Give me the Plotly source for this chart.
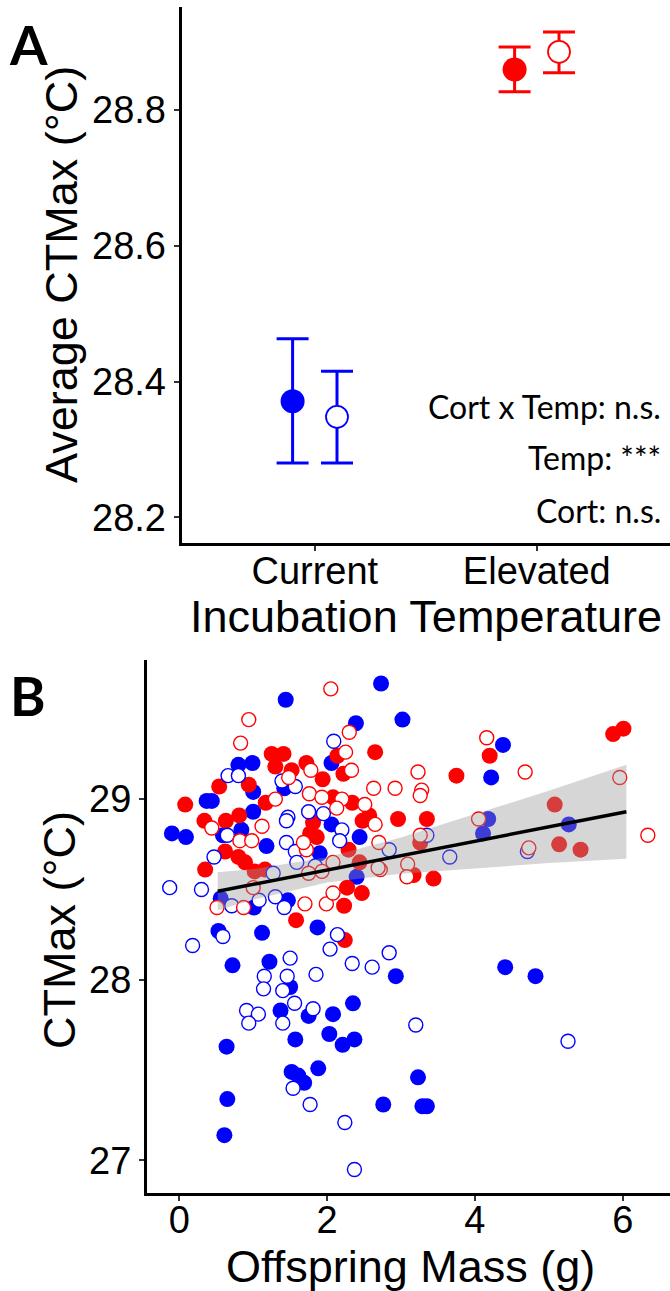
import plotly.graph_objects as go

# ---------------- Panel A: mean CTMax by incubation temperature ----------------
temp_levels = ["Current", "Elevated"]
temp_colors = ["#0000FF", "#FF0000"]

# filled symbols (cort group 1) and open symbols (cort group 2)
mean_filled = [28.371, 28.860]
lo_filled = [28.280, 28.827]
hi_filled = [28.463, 28.893]

mean_open = [28.348, 28.886]
lo_open = [28.280, 28.855]
hi_open = [28.415, 28.915]

stat_lines = ["Cort x Temp: n.s.", "Temp: ***", "Cort: n.s."]

# ---------------- Panel B: CTMax vs offspring mass ----------------
blue_filled_x = [2.73, 3.02, 4.38, 4.22, 5.27, 4.18, 4.11, 2.93, 4.41, 4.82, 3.23, 2.76, 3.29, 3.35,
                 0.53, 1.12, 1.87, 0.72, 1.22, 1.50, 1.37, 1.75, 2.08, 2.35, 1.57, 2.03, 2.21, 2.37,
                 0.64, 1.52, 1.61, 1.69, 1.88, 0.65, 0.61,
                 1.44, 2.39, 2.06, 0.80, 0.99, 1.00, 1.42, 0.37, 0.44, 1.00, 0.84, 0.59, -0.10, 0.09,
                 1.18, 2.06, 2.44, 1.90, 2.40, 0.56, 1.01, 1.47]
blue_filled_y = [29.64, 29.44, 29.30, 29.12, 28.86, 28.89, 28.81, 28.02, 28.07, 28.02, 27.46, 27.31, 27.30, 27.30,
                 28.27, 28.26, 28.29, 28.08, 28.10, 27.96, 27.83, 27.80, 27.81, 27.87, 27.67, 27.70, 27.64, 27.67,
                 27.63, 27.49, 27.47, 27.43, 27.51, 27.34, 27.14,
                 29.55, 29.42, 29.20, 29.19, 29.20, 29.04, 29.06, 28.99, 28.99, 28.93, 28.83, 28.80, 28.81, 28.79,
                 28.74, 28.86, 28.79, 28.70, 28.57, 28.45, 28.40, 28.44]

blue_open_x = [4.71, 3.66, 3.35, 2.84, 2.84, 3.20, 5.26,
               0.59, 0.18, 2.14, 2.04, 1.50, 2.34, 2.61, 1.85, 1.15, 1.46, 1.14, 1.40, 1.56, 0.91, 1.07,
               0.94, 1.40, 1.81, 1.54, 1.77, 2.24, 2.37,
               2.09, 0.66, 0.80, 1.39, 1.57, 0.65, 1.47, 1.45, 1.75, 1.95, 2.20, 2.17, 1.45, 1.57, 1.59,
               1.84, 0.47, 1.27, -0.13, 0.30, 0.71, 1.08, 1.30, 1.42]
blue_open_y = [28.71, 28.68, 28.80, 28.72, 28.15, 27.75, 27.66,
               28.24, 28.19, 28.25, 28.17, 28.12, 28.09, 28.07, 28.03, 28.02, 28.02, 27.95, 27.94, 27.87, 27.83, 27.81,
               27.76, 27.76, 27.84, 27.40, 27.31, 27.21, 26.95,
               29.32, 29.13, 29.13, 29.10, 29.07, 28.80, 28.90, 28.88, 28.93, 28.92, 28.83, 28.77, 28.76, 28.71, 28.65,
               28.63, 28.68, 28.59, 28.51, 28.50, 28.41, 28.44, 28.46, 28.40]

red_filled_x = [4.20, 3.75, 5.87, 6.01, 5.08, 5.14, 5.43, 2.96, 3.35, 3.26, 3.17, 3.44, 2.65,
                1.58, 2.24,
                2.14, 2.22, 1.25, 1.41, 1.30, 1.52, 1.72, 1.94, 0.54, 0.94, 1.17, 2.08, 2.34, 2.57,
                0.08, 0.34, 0.63, 0.81, 1.81, 1.77, 1.86, 2.48, 2.29, 0.62, 0.80, 0.89, 0.35, 1.02,
                1.16, 2.44, 2.23, 2.27, 2.47]
red_filled_y = [29.24, 29.13, 29.36, 29.39, 28.97, 28.75, 28.72, 28.89, 28.89, 28.76, 28.58, 28.56, 29.26,
                28.33, 28.22,
                29.24, 29.14, 29.25, 29.25, 29.18, 29.16, 29.20, 29.11, 29.07, 29.08, 28.98, 29.01, 28.98, 28.91,
                28.97, 28.88, 28.88, 28.91, 28.87, 28.81, 28.79, 28.88, 28.72, 28.71, 28.68, 28.65, 28.61, 28.60,
                28.61, 28.65, 28.41, 28.51, 28.48]

red_open_x = [4.16, 4.68, 5.96, 6.34, 4.73, 4.05, 3.23, 2.92, 3.28, 3.26, 3.26, 3.09, 3.08, 2.72,
              2.05, 0.94, 0.83, 2.30, 2.25, 2.33, 1.78, 1.48, 1.30, 1.76, 1.93, 2.20, 2.13, 2.51, 2.63,
              0.44, 1.12, 0.82, 0.98, 2.65, 1.72, 1.68, 2.08, 2.69, 1.93, 1.75, 0.51, 0.87, 1.70, 1.99,
              2.08, 2.70, 1.00]
red_open_y = [29.34, 29.15, 29.12, 28.80, 28.73, 28.89, 29.15, 29.06, 29.05, 29.02, 28.80, 28.64, 28.57, 28.61,
              29.61, 29.44, 29.31, 29.37, 29.26, 29.16, 29.16, 29.12, 29.00, 29.03, 29.01, 29.00, 28.95, 28.97, 29.06,
              28.84, 28.85, 28.77, 28.77, 28.86, 28.72, 28.76, 28.65, 28.62, 28.60, 28.59, 28.40, 28.40, 28.42, 28.42,
              28.48, 28.76, 28.51]

# linear fit with 95% confidence band
fit_x = [0.52, 1.0, 2.0, 3.0, 4.0, 5.0, 6.05]
fit_y = [28.490, 28.528, 28.608, 28.687, 28.767, 28.846, 28.930]
fit_lo = [28.385, 28.443, 28.538, 28.587, 28.617, 28.646, 28.670]
fit_hi = [28.595, 28.613, 28.678, 28.787, 28.917, 29.046, 29.190]

W, H = 670, 1291
FONT = "Liberation Sans, Arial, sans-serif"
TICK_SIZE = 38
TITLE_SIZE = 45

fig = go.Figure()

# Panel A traces
dodge = 0.1
for i, lvl in enumerate(temp_levels):
    col = temp_colors[i]
    fig.add_trace(go.Scatter(
        x=[i + 1 - dodge], y=[mean_filled[i]], mode="markers",
        marker=dict(symbol="circle", size=24, color=col, line=dict(width=0)),
        error_y=dict(type="data", symmetric=False,
                     array=[hi_filled[i] - mean_filled[i]],
                     arrayminus=[mean_filled[i] - lo_filled[i]],
                     color=col, thickness=3, width=16),
        xaxis="x", yaxis="y", showlegend=False, name=lvl))
    fig.add_trace(go.Scatter(
        x=[i + 1 + dodge], y=[mean_open[i]], mode="markers",
        marker=dict(symbol="circle", size=22, color="white", line=dict(width=1.8, color=col)),
        error_y=dict(type="data", symmetric=False,
                     array=[hi_open[i] - mean_open[i]],
                     arrayminus=[mean_open[i] - lo_open[i]],
                     color=col, thickness=3, width=16),
        xaxis="x", yaxis="y", showlegend=False, name=lvl))

# Panel B points
groups = [
    (blue_filled_x, blue_filled_y, "#0000FF", True),
    (red_filled_x, red_filled_y, "#FF0000", True),
    (blue_open_x, blue_open_y, "#0000FF", False),
    (red_open_x, red_open_y, "#FF0000", False),
]
for gx, gy, col, filled in groups:
    if filled:
        mk = dict(symbol="circle", size=16, color=col, line=dict(width=0))
    else:
        mk = dict(symbol="circle", size=14, color="white", line=dict(width=1.4, color=col))
    fig.add_trace(go.Scatter(x=gx, y=gy, mode="markers", marker=mk,
                             xaxis="x2", yaxis="y2", showlegend=False))

# confidence band over the points, then the fitted line
fig.add_trace(go.Scatter(
    x=fit_x + fit_x[::-1], y=fit_hi + fit_lo[::-1],
    fill="toself", fillcolor="rgba(153,153,153,0.4)", line=dict(width=0),
    mode="lines", hoverinfo="skip", xaxis="x2", yaxis="y2", showlegend=False))
fig.add_trace(go.Scatter(
    x=fit_x, y=fit_y, mode="lines", line=dict(color="black", width=3.5),
    xaxis="x2", yaxis="y2", showlegend=False))

axis_common = dict(showline=True, linecolor="black", linewidth=3, showgrid=False, zeroline=False,
                   ticks="outside", ticklen=5, tickwidth=1.5, tickcolor="#333333",
                   tickfont=dict(family=FONT, size=TICK_SIZE, color="black"), mirror=False)

fig.update_layout(
    width=W, height=H, margin=dict(l=0, r=0, t=0, b=0),
    paper_bgcolor="white", plot_bgcolor="white", showlegend=False,
    xaxis=dict(domain=[181.6 / W, 1], range=[0.4, 2.6], tickmode="array",
               tickvals=[1, 2], ticktext=temp_levels, anchor="y",
               ticklabelstandoff=-13, **axis_common),
    yaxis=dict(domain=[1 - 543 / H, 1 - 7 / H], range=[28.162, 28.952], anchor="x",
               tickmode="array", tickvals=[28.2, 28.4, 28.6, 28.8],
               ticktext=["28.2", "28.4", "28.6", "28.8"], **axis_common),
    xaxis2=dict(domain=[147 / W, 1], range=[-0.437, 6.64], anchor="y2",
                tickmode="array", tickvals=[0, 2, 4, 6],
                ticklabelstandoff=-14, **axis_common),
    yaxis2=dict(domain=[1 - 1193 / H, 1 - 660 / H], range=[26.82, 29.77], anchor="x2",
                tickmode="array", tickvals=[27, 28, 29], **axis_common),
)

# axis titles
title_font = dict(family=FONT, size=TITLE_SIZE, color="black")
axis_titles = [
    ("Incubation Temperature", 426, 617, 0),
    ("Average CTMax (°C)", 62, 275, -90),
    ("Offspring Mass (g)", 410, 1266, 0),
    ("CTMax (°C)", 60, 930, -90),
]
for txt, px, py, ang in axis_titles:
    fig.add_annotation(text=txt, xref="paper", yref="paper", x=px / W, y=1 - py / H,
                       xanchor="center", yanchor="middle", textangle=ang, showarrow=False,
                       font=title_font)

# significance summary in panel A
stat_y = [406, 457, 510]
for txt, py in zip(stat_lines, stat_y):
    fig.add_annotation(text=txt, xref="paper", yref="paper", x=663 / W, y=1 - py / H,
                       xanchor="right", yanchor="middle", showarrow=False,
                       font=dict(family="Lato, Open Sans, sans-serif", size=32, color="black"))

# panel letters
for letter, py in [("A", 45), ("B", 695)]:
    fig.add_annotation(text="<b>" + letter + "</b>", xref="paper", yref="paper",
                       x=28 / W, y=1 - py / H, xanchor="center", yanchor="middle", showarrow=False,
                       font=dict(family="Lato, Open Sans, sans-serif", size=54, color="black"))

fig.write_html("out.html")
